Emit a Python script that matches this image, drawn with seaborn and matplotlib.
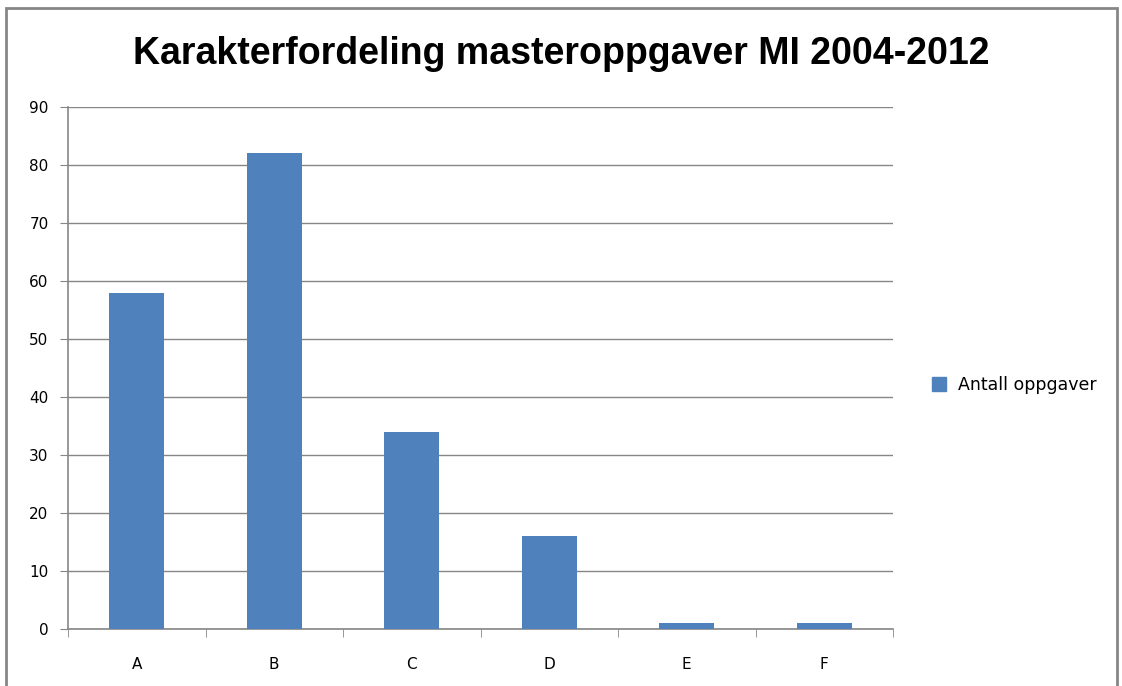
import numpy as np
import pandas as pd
import matplotlib
matplotlib.use("Agg")
import matplotlib.pyplot as plt
import seaborn as sns
from matplotlib.patches import Rectangle
from matplotlib.lines import Line2D

# Data
grades = ["A", "B", "C", "D", "E", "F"]
counts = [58, 82, 34, 16, 1, 1]
series_name = "Antall oppgaver"
title = "Karakterfordeling masteroppgaver MI 2004-2012"

sns.set_style("white")
plt.rcParams['font.family'] = ['DejaVu Sans']
plt.rcParams['text.color'] = 'black'
plt.rcParams['xtick.labelcolor'] = 'black'
plt.rcParams['ytick.labelcolor'] = 'black'

df = pd.DataFrame({"grade": grades, "count": counts})

fig = plt.figure(figsize=(11.22, 6.86), dpi=100)
ax = fig.add_axes([68 / 1122, 1 - 629 / 686, (893 - 68) / 1122, (629 - 107) / 686])

bar_color = "#4F81BD"
sns.barplot(data=df, x="grade", y="count", color=bar_color, width=0.4,
            saturation=1, linewidth=0, ax=ax, zorder=3)

ax.set_ylim(0, 90)
ax.set_xlim(-0.5, len(grades) - 0.5)
ax.set_yticks(np.arange(0, 91, 10))
ax.yaxis.grid(True, color="#868686", linewidth=1, zorder=0)
ax.set_xlabel("")
ax.set_ylabel("")

# spines: only left and bottom, grey
for side in ["top", "right"]:
    ax.spines[side].set_visible(False)
for side in ["left", "bottom"]:
    ax.spines[side].set_color("#868686")
    ax.spines[side].set_linewidth(1.2)

ax.tick_params(axis="y", direction="out", length=6, color="#868686",
               labelsize=11, pad=8, left=True, labelcolor="black")
ax.tick_params(axis="x", which="major", length=0, labelsize=11, pad=20,
               labelcolor="black")
ax.set_xticks(np.arange(-0.5, len(grades), 1), minor=True)
ax.tick_params(axis="x", which="minor", direction="out", length=6,
               color="#868686", bottom=True)

fig.text(0.5, 1 - 54 / 686, title, ha="center", va="center", color="black",
         fontsize=27, fontweight="bold", family="Liberation Sans")

handle = Line2D([], [], marker="s", linestyle="none", markersize=10,
                markerfacecolor=bar_color, markeredgecolor=bar_color)
leg = fig.legend([handle], [series_name], loc="center left",
                 bbox_to_anchor=(915 / 1122, 1 - 385 / 686), frameon=False,
                 fontsize=12.5, handletextpad=0.1, borderaxespad=0)
for t in leg.get_texts():
    t.set_color("black")

# chart frame
fig.patches.append(Rectangle((6 / 1122, -0.05), (1117 - 6) / 1122, 1.05 - 8 / 686,
                             transform=fig.transFigure, fill=False,
                             edgecolor="#868686", linewidth=2))

fig.savefig("out.png", dpi=100)
